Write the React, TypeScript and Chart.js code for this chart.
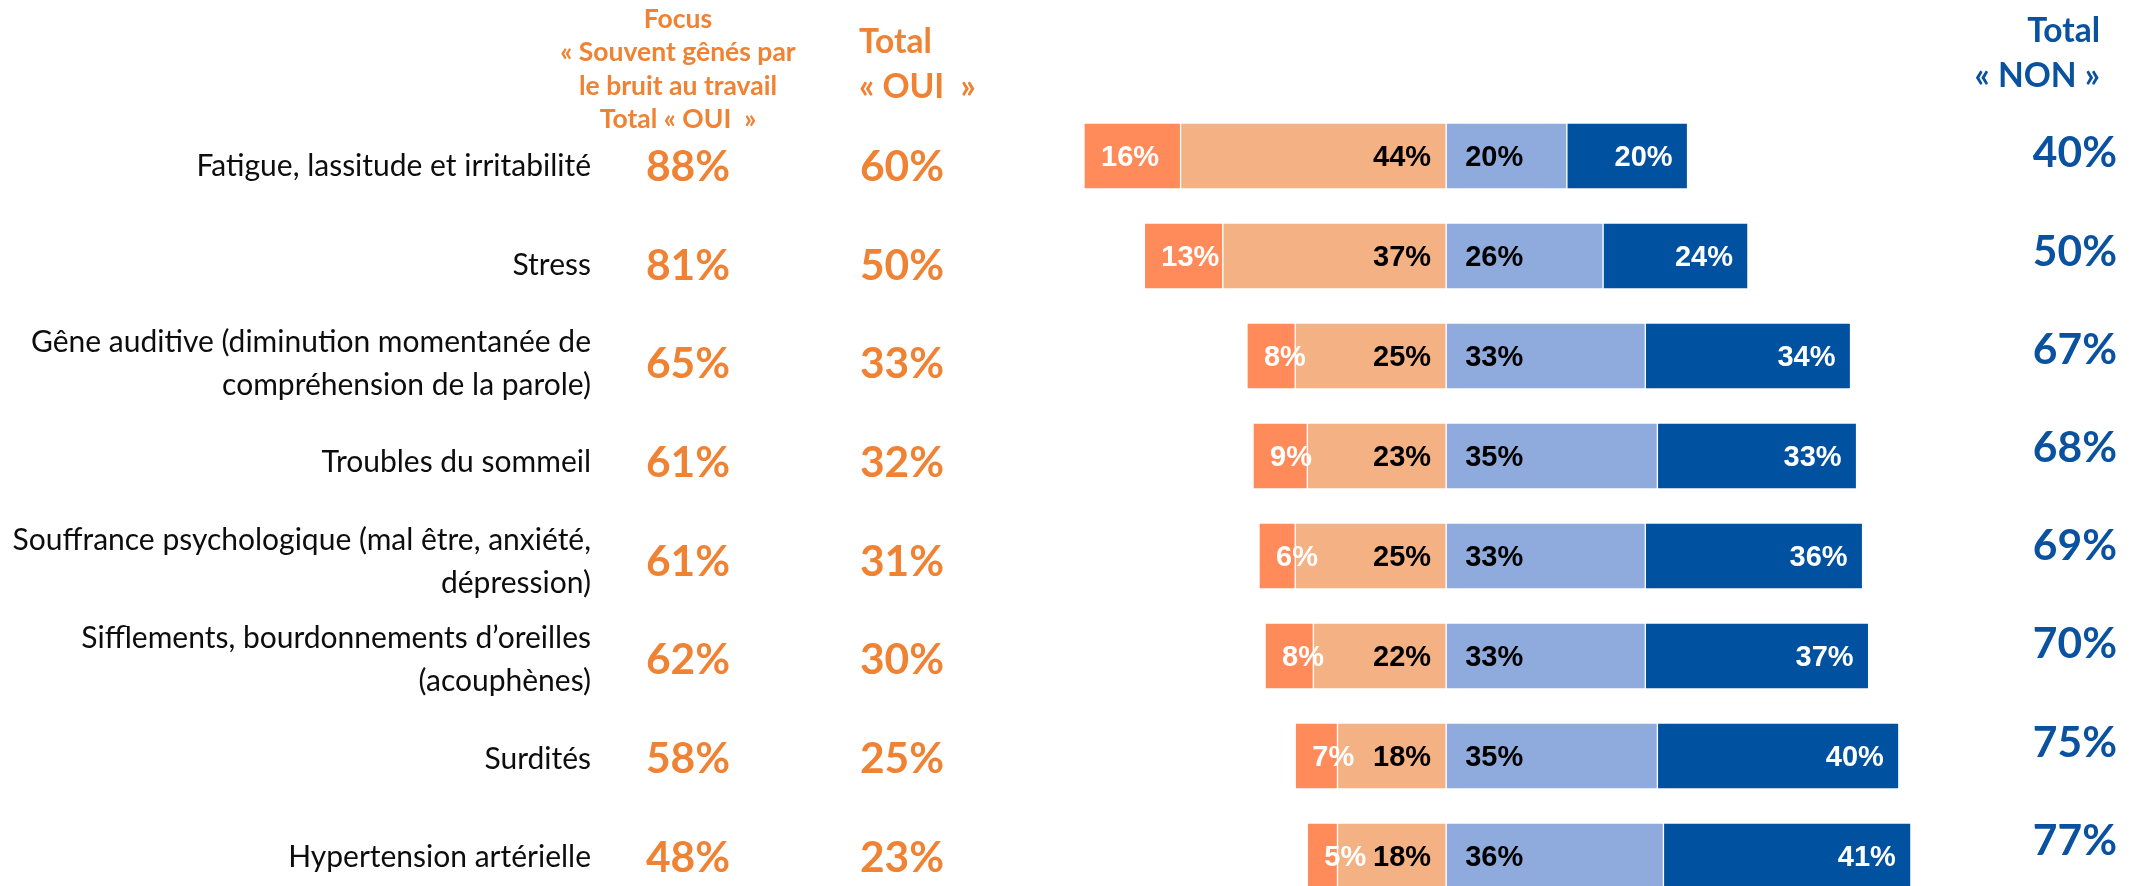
import React, { useEffect, useRef } from "react";
import { Chart, registerables } from "chart.js";

Chart.register(...registerables);

// ---------- data ----------
const categories: string[][] = [
  ["Fatigue, lassitude et irritabilité"],
  ["Stress"],
  ["Gêne auditive (diminution momentanée de", "compréhension de la parole)"],
  ["Troubles du sommeil"],
  ["Souffrance psychologique (mal être, anxiété,", "dépression)"],
  ["Sifflements, bourdonnements d’oreilles", "(acouphènes)"],
  ["Surdités"],
  ["Hypertension artérielle"],
];
const souvent = [16, 13, 8, 9, 6, 8, 7, 5];
const parfois = [44, 37, 25, 23, 25, 22, 18, 18];
const rarement = [20, 26, 33, 35, 33, 33, 35, 36];
const jamais = [20, 24, 34, 33, 36, 37, 40, 41];
const focusOui = [88, 81, 65, 61, 61, 62, 58, 48];
const totalOui = [60, 50, 33, 32, 31, 30, 25, 23];
const totalNon = [40, 50, 67, 68, 69, 70, 75, 77];
const focusHeader = ["Focus", "« Souvent gênés par", "le bruit au travail", "Total « OUI  »"];
const ouiHeader = ["Total", "« OUI  »"];
const nonHeader = ["Total", "« NON »"];

// ---------- styles ----------
const C_DARK_ORANGE = "#FF8B5B";
const C_LIGHT_ORANGE = "#F4B183";
const C_LIGHT_BLUE = "#8FAADC";
const C_DARK_BLUE = "#0051A0";
const T_ORANGE = "#EF8233";
const T_BLUE = "#0A52A0";
const SANS = "Lato, 'Noto Sans', sans-serif";
const BAR_FONT = "bold 29px 'Liberation Sans', Arial, sans-serif";

type LabelRule = { align: "left" | "right"; anchor: "lo" | "hi"; offset: number; color: string };

const sidePlugin = {
  id: "sideText",
  afterDatasetsDraw(chart: any) {
    const ctx: CanvasRenderingContext2D = chart.ctx;
    ctx.save();
    ctx.font = BAR_FONT;
    ctx.textBaseline = "alphabetic";
    chart.data.datasets.forEach((ds: any, di: number) => {
      const rule: LabelRule = ds.labelRule;
      const meta = chart.getDatasetMeta(di);
      meta.data.forEach((el: any, j: number) => {
        const { x, base, y } = el.getProps(["x", "base", "y"], true);
        const lo = Math.min(x, base);
        const hi = Math.max(x, base);
        const tx = rule.anchor === "lo" ? lo + rule.offset : hi - rule.offset;
        ctx.textAlign = rule.align;
        ctx.fillStyle = rule.color;
        ctx.fillText(Math.abs(ds.data[j]) + "%", tx, y + 0.358 * 29);
      });
    });
    ctx.restore();
  },
  afterDraw(chart: any) {
    const ctx: CanvasRenderingContext2D = chart.ctx;
    const ys = chart.scales.y;
    ctx.save();
    ctx.textBaseline = "alphabetic";

    // headers
    ctx.fillStyle = T_ORANGE;
    ctx.font = `bold 26.5px ${SANS}`;
    ctx.textAlign = "center";
    focusHeader.forEach((t, k) => ctx.fillText(t, 678, 28 + k * 33.3));
    ctx.font = `bold 33.5px ${SANS}`;
    ctx.textAlign = "left";
    ouiHeader.forEach((t, k) => ctx.fillText(t, 859, 53 + k * 45));
    ctx.fillStyle = T_BLUE;
    ctx.textAlign = "right";
    nonHeader.forEach((t, k) => ctx.fillText(t, 2100, 42 + k * 45));

    categories.forEach((lines, i) => {
      const p = ys.getPixelForValue(i);
      const yl = p + 9.5 - 1.3 * i;
      // category label
      ctx.fillStyle = "#0D0D0D";
      ctx.font = `30px ${SANS}`;
      ctx.textAlign = "right";
      const lh = 43;
      lines.forEach((t, k) => {
        const cy = yl - ((lines.length - 1) * lh) / 2 + k * lh;
        ctx.fillText(t, 591, cy + 0.36 * 30);
      });
      // focus & total oui
      ctx.fillStyle = T_ORANGE;
      ctx.font = `bold 42.5px ${SANS}`;
      ctx.textAlign = "center";
      ctx.fillText(focusOui[i] + "%", 688, yl + 0.36 * 42.5);
      ctx.fillText(totalOui[i] + "%", 902, yl + 0.36 * 42.5);
      // total non
      ctx.fillStyle = T_BLUE;
      ctx.textAlign = "right";
      ctx.fillText(totalNon[i] + "%", 2117, p - 4 - 1.8 * i + 0.36 * 42.5);
    });
    ctx.restore();
  },
};

export default function App() {
  const ref = useRef<HTMLCanvasElement | null>(null);

  useEffect(() => {
    if (!ref.current) return;
    const common = {
      borderColor: "#FFFFFF",
      borderWidth: 1,
      borderSkipped: false,
      barThickness: 66,
      clip: false as any,
    };
    const chart = new Chart(ref.current, {
      type: "bar",
      data: {
        labels: categories,
        datasets: [
          {
            label: "Parfois",
            data: parfois.map((v) => -v),
            backgroundColor: C_LIGHT_ORANGE,
            labelRule: { align: "right", anchor: "hi", offset: 15, color: "#000000" },
            ...common,
          } as any,
          {
            label: "Souvent",
            data: souvent.map((v) => -v),
            backgroundColor: C_DARK_ORANGE,
            labelRule: { align: "left", anchor: "lo", offset: 17, color: "#FFFFFF" },
            ...common,
          } as any,
          {
            label: "Rarement",
            data: rarement,
            backgroundColor: C_LIGHT_BLUE,
            labelRule: { align: "left", anchor: "lo", offset: 19, color: "#000000" },
            ...common,
          } as any,
          {
            label: "Jamais",
            data: jamais,
            backgroundColor: C_DARK_BLUE,
            labelRule: { align: "right", anchor: "hi", offset: 15, color: "#FFFFFF" },
            ...common,
          } as any,
        ],
      },
      options: {
        indexAxis: "y",
        animation: false,
        responsive: false,
        devicePixelRatio: 1,
        layout: { padding: { left: 1084, right: 217, top: 156, bottom: 30 } },
        plugins: { legend: { display: false }, tooltip: { enabled: false } },
        scales: {
          x: { type: "linear", min: -60, max: 80, stacked: true, display: false },
          y: { type: "category", stacked: true, display: false, offset: false },
        },
      },
      plugins: [sidePlugin],
    });
    return () => chart.destroy();
  }, []);

  return (
    <div style={{ position: "fixed", left: 0, top: 0, width: 2146, height: 886, background: "#FFFFFF" }}>
      <canvas ref={ref} width={2146} height={886} style={{ display: "block" }} />
    </div>
  );
}
